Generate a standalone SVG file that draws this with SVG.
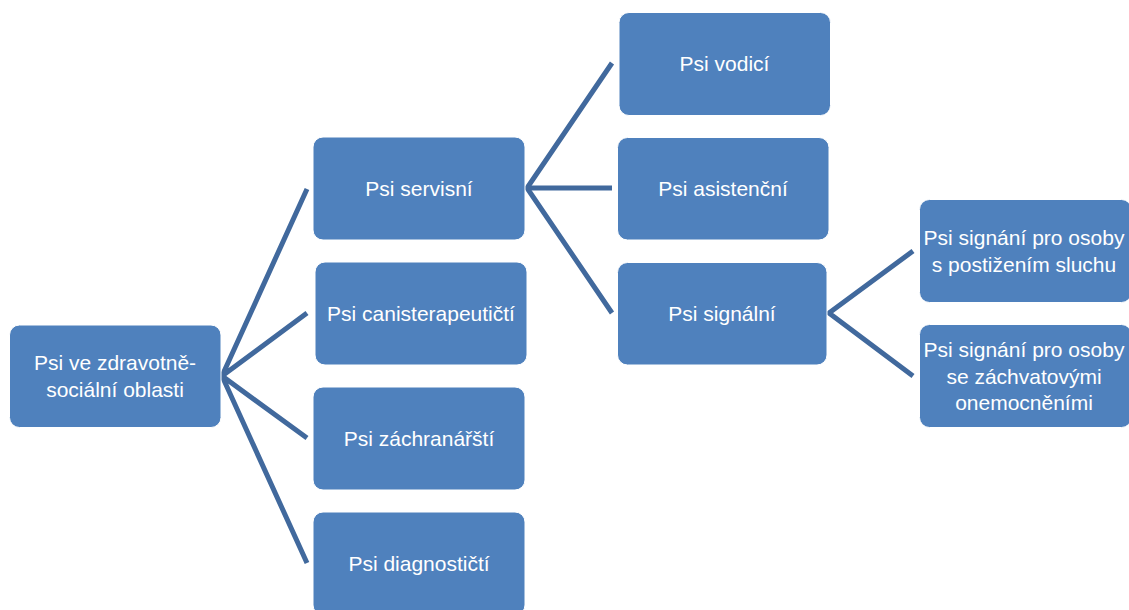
<svg xmlns="http://www.w3.org/2000/svg" width="1129" height="610" viewBox="0 0 1129 610">
<style>
.box{fill:#4f81bd;stroke:#ffffff;stroke-width:1}
.lbl{font-family:"Liberation Sans",Arial,sans-serif;font-size:21px;fill:#ffffff;text-anchor:middle}
.con{stroke:#41699d;stroke-width:5;fill:none;stroke-linejoin:miter}
</style>
<rect width="1129" height="610" fill="#ffffff"/>
<g id="connectors">
<polyline class="con" points="307,189 222,376 307,313"/>
<polyline class="con" points="307,438 222,376 307,563"/>
<polyline class="con" points="612,63 527,188 612,313"/>
<line class="con" x1="527" y1="188" x2="612" y2="188"/>
<polyline class="con" points="913,251 829,313 913,376"/>
</g>
<g id="root">
<rect class="box" x="9.5" y="325" width="211.5" height="102.5" rx="10"/>
<text class="lbl" x="115" y="370">Psi ve zdravotně-</text>
<text class="lbl" x="115" y="397">sociální oblasti</text>
</g>
<g id="servisni">
<rect class="box" x="313" y="137" width="212" height="103" rx="10"/>
<text class="lbl" x="419" y="195.5">Psi servisní</text>
</g>
<g id="canisterapeuticti">
<rect class="box" x="315" y="262" width="212" height="103" rx="10"/>
<text class="lbl" x="421" y="320.5">Psi canisterapeutičtí</text>
</g>
<g id="zachranarsti">
<rect class="box" x="313" y="387" width="212" height="103" rx="10"/>
<text class="lbl" x="419" y="445.5">Psi záchranářští</text>
</g>
<g id="diagnosticti">
<rect class="box" x="313" y="512" width="212" height="103" rx="10"/>
<text class="lbl" x="419" y="570.5">Psi diagnostičtí</text>
</g>
<g id="vodici">
<rect class="box" x="619" y="12.5" width="211.5" height="103" rx="10"/>
<text class="lbl" x="724.5" y="71">Psi vodicí</text>
</g>
<g id="asistencni">
<rect class="box" x="617.5" y="137.5" width="211.5" height="102.5" rx="10"/>
<text class="lbl" x="723" y="195.5">Psi asistenční</text>
</g>
<g id="signalni">
<rect class="box" x="617.5" y="262.5" width="209.5" height="102.5" rx="10"/>
<text class="lbl" x="722" y="320.5">Psi signální</text>
</g>
<g id="sluch">
<rect class="box" x="919.5" y="199.5" width="212" height="103" rx="10"/>
<text class="lbl" x="1024" y="245">Psi signání pro osoby</text>
<text class="lbl" x="1024" y="272">s postižením sluchu</text>
</g>
<g id="zachvaty">
<rect class="box" x="919.5" y="324.5" width="212" height="103" rx="10"/>
<text class="lbl" x="1024" y="357">Psi signání pro osoby</text>
<text class="lbl" x="1024" y="383.5">se záchvatovými</text>
<text class="lbl" x="1024" y="409.5">onemocněními</text>
</g>
</svg>
